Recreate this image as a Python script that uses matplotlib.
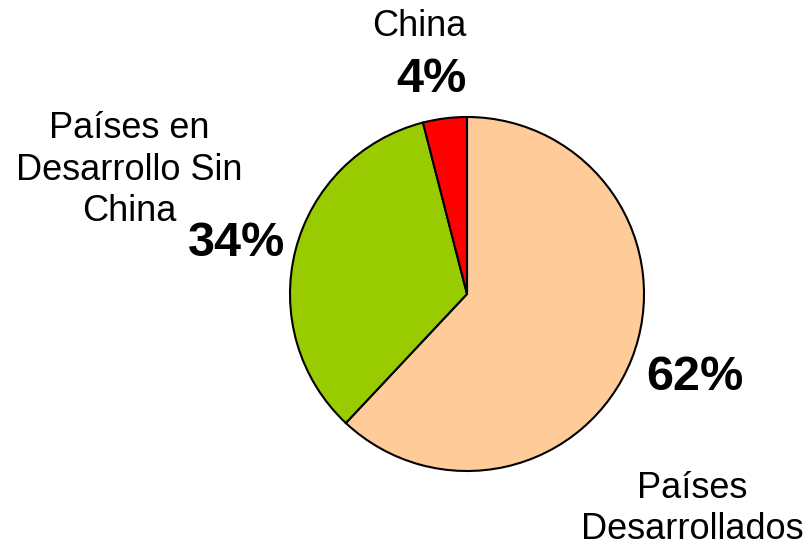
import matplotlib
matplotlib.use("Agg")
import matplotlib.pyplot as plt

plt.rcParams['font.family'] = ['Liberation Sans', 'DejaVu Sans']

categories = ["Países\nDesarrollados", "Países en\nDesarrollo Sin\nChina", "China"]
values = [62, 34, 4]
pct_labels = ["62%", "34%", "4%"]
colors = ["#FFCC99", "#99CC00", "#FF0000"]

W, H = 811, 546
fig = plt.figure(figsize=(W / 100, H / 100), dpi=100)
cx, cy, r = 467, 294, 177
ax = fig.add_axes([(cx - r) / W, (H - cy - r) / H, 2 * r / W, 2 * r / H])
ax.pie(values, colors=colors, startangle=90, counterclock=False,
       wedgeprops=dict(edgecolor="black", linewidth=1.5))
ax.set_xlim(-1, 1)
ax.set_ylim(-1, 1)
ax.set_aspect("equal")
ax.axis("off")

def px(x, y):
    return x / W, 1 - y / H

cat_pos = [(692, 509), (129, 170), (419, 27)]
pct_pos = [(695, 378), (237, 244), (431, 80)]
for name, (x, y) in zip(categories, cat_pos):
    fig.text(*px(x, y), name, ha="center", va="center", fontsize=26,
             linespacing=1.25, color="black")
for lab, (x, y) in zip(pct_labels, pct_pos):
    fig.text(*px(x, y), lab, ha="center", va="center", fontsize=35,
             fontweight="bold", color="black")

fig.savefig("out.png", dpi=100)
